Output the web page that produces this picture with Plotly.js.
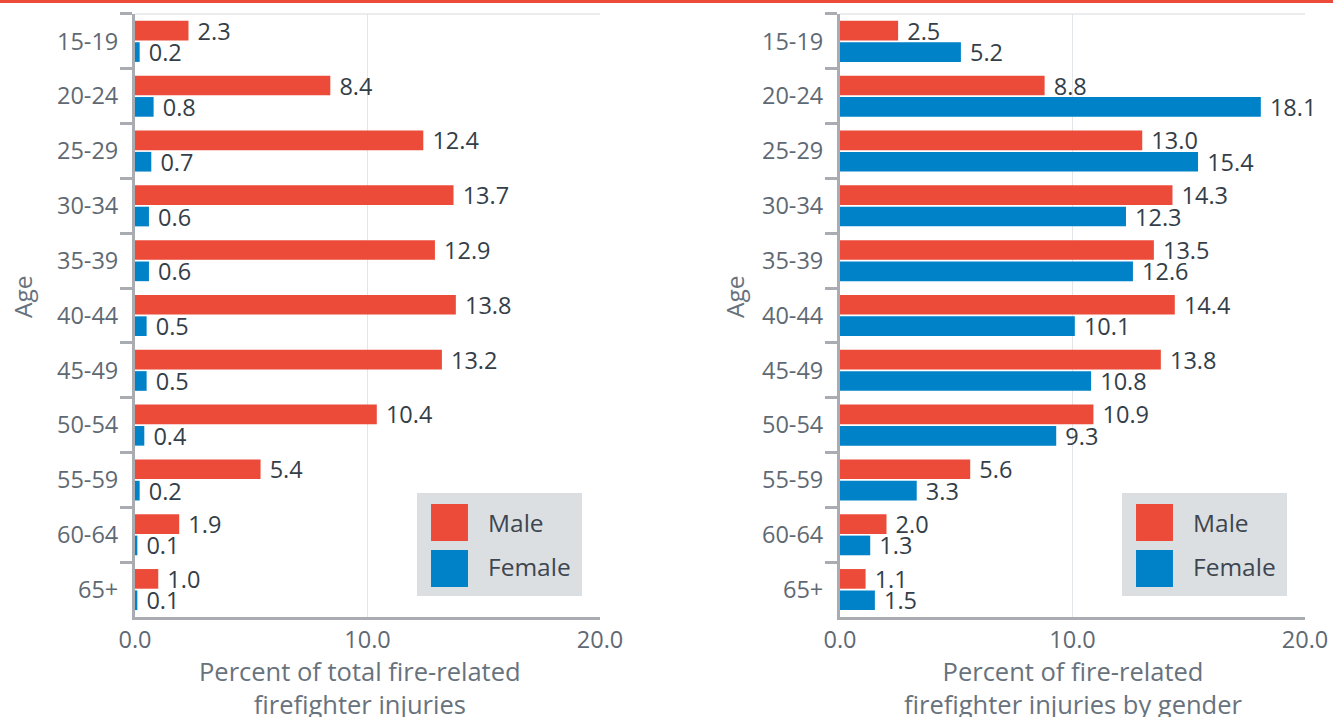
<!DOCTYPE html>
<html><head><meta charset="utf-8">
<script src="https://cdn.plot.ly/plotly-3.0.1.min.js"></script>
<style>html,body{margin:0;padding:0;background:#fff;}#chart{width:1333px;height:717px;}</style>
</head><body><div id="chart"></div>
<script>
const ageGroups = ["15-19","20-24","25-29","30-34","35-39","40-44","45-49","50-54","55-59","60-64","65+"];
const totalMale   = [2.3, 8.4, 12.4, 13.7, 12.9, 13.8, 13.2, 10.4, 5.4, 1.9, 1.0];
const totalFemale = [0.2, 0.8, 0.7, 0.6, 0.6, 0.5, 0.5, 0.4, 0.2, 0.1, 0.1];
const genderMale   = [2.5, 8.8, 13.0, 14.3, 13.5, 14.4, 13.8, 10.9, 5.6, 2.0, 1.1];
const genderFemale = [5.2, 18.1, 15.4, 12.3, 12.6, 10.1, 10.8, 9.3, 3.3, 1.3, 1.5];
const seriesNames = ["Male", "Female"];
const xTickVals = [0, 10, 20];
const leftTitle = "Percent of total fire-related<br>firefighter injuries";
const rightTitle = "Percent of fire-related<br>firefighter injuries by gender";
const yTitle = "Age";

const RED = "#EC4B39", BLUE = "#0082C9";
const FONT = "Open Sans, Noto Sans, sans-serif";
const labelColor = "#343e48", tickColor = "#5f6973", axisGray = "#a9adb2";

function barTrace(vals, name, color, xa, ya) {
  return {
    type: "bar", orientation: "h", y: ageGroups, x: vals, name: name,
    xaxis: xa, yaxis: ya, marker: {color: color},
    text: vals.map(v => "\u00a0" + v.toFixed(1)), textposition: "outside",
    textfont: {family: FONT, size: 23.5, color: labelColor},
    constraintext: "none", cliponaxis: false, hoverinfo: "x+y", showlegend: false
  };
}

const data = [
  barTrace(totalMale, seriesNames[0], RED, "x", "y"),
  barTrace(totalFemale, seriesNames[1], BLUE, "x", "y"),
  barTrace(genderMale, seriesNames[0], RED, "x2", "y2"),
  barTrace(genderFemale, seriesNames[1], BLUE, "x2", "y2")
];

function xAxis(domain, anchor) {
  return {
    domain: domain, anchor: anchor, range: [0, 20], tickvals: xTickVals,
    tickformat: ".1f", showgrid: true, gridcolor: "#e3e6e9", gridwidth: 1.5,
    zeroline: false, showline: true, linecolor: axisGray, linewidth: 3,
    ticks: "", tickfont: {family: FONT, size: 23.5, color: tickColor}, fixedrange: true
  };
}
function yAxis(domain, anchor) {
  return {
    domain: domain, anchor: anchor, type: "category", autorange: "reversed",
    showline: true, linecolor: axisGray, linewidth: 3, showgrid: false,
    ticks: "outside", tickson: "boundaries", ticklen: 12, tickwidth: 3, tickcolor: axisGray,
    ticklabelstandoff: 9,
    tickfont: {family: FONT, size: 23.5, color: tickColor}, fixedrange: true
  };
}

const yDom = [0.1395, 0.9805];
const shapes = [
  {type: "line", xref: "paper", yref: "paper", x0: 0, x1: 1, y0: 0.998, y1: 0.998, line: {color: RED, width: 3}},
  {type: "line", xref: "x domain", yref: "y domain", x0: 0, x1: 1, y0: 1, y1: 1, line: {color: "#e3e6e9", width: 1.5}},
  {type: "line", xref: "x2 domain", yref: "y2 domain", x0: 0, x1: 1, y0: 1, y1: 1, line: {color: "#e3e6e9", width: 1.5}}
];
const annotations = [];
function addLegend(xr, yr) {
  shapes.push({type: "rect", xref: xr, yref: yr, x0: 0.6065, x1: 0.9613, y0: 0.0348, y1: 0.2056, fillcolor: "#dcdfe2", line: {width: 0}, layer: "above"});
  shapes.push({type: "rect", xref: xr, yref: yr, x0: 0.6366, x1: 0.7161, y0: 0.1260, y1: 0.1874, fillcolor: RED, line: {width: 0}, layer: "above"});
  shapes.push({type: "rect", xref: xr, yref: yr, x0: 0.6366, x1: 0.7161, y0: 0.0498, y1: 0.1111, fillcolor: BLUE, line: {width: 0}, layer: "above"});
  annotations.push({xref: xr, yref: yr, x: 0.7548, y: 0.1575, xanchor: "left", yanchor: "middle", showarrow: false, text: seriesNames[0], font: {family: FONT, size: 24.5, color: "#3d4650"}});
  annotations.push({xref: xr, yref: yr, x: 0.7548, y: 0.0829, xanchor: "left", yanchor: "middle", showarrow: false, text: seriesNames[1], font: {family: FONT, size: 24.5, color: "#3d4650"}});
}
addLegend("x domain", "y domain");
addLegend("x2 domain", "y2 domain");

const titleFont = {family: FONT, size: 25.5, color: "#68727c"};
const ageFont = {family: FONT, size: 24.5, color: "#68727c"};
annotations.push({xref: "paper", yref: "paper", x: 0.2701, y: 0.0418, xanchor: "center", yanchor: "middle", showarrow: false, text: leftTitle, font: titleFont});
annotations.push({xref: "paper", yref: "paper", x: 0.8050, y: 0.0418, xanchor: "center", yanchor: "middle", showarrow: false, text: rightTitle, font: titleFont});
annotations.push({xref: "paper", yref: "paper", x: 0.0173, y: 0.5858, xanchor: "center", yanchor: "middle", showarrow: false, text: yTitle, textangle: -90, font: ageFont});
annotations.push({xref: "paper", yref: "paper", x: 0.5514, y: 0.5858, xanchor: "center", yanchor: "middle", showarrow: false, text: yTitle, textangle: -90, font: ageFont});

const layout = {
  width: 1333, height: 717, margin: {l: 0, r: 0, t: 0, b: 0},
  paper_bgcolor: "#ffffff", plot_bgcolor: "#ffffff",
  barmode: "group", bargap: 0.22, bargroupgap: 0.08,
  xaxis: xAxis([0.10128, 0.45011], "y"),
  yaxis: yAxis(yDom, "x"),
  xaxis2: xAxis([0.63016, 0.97899], "y2"),
  yaxis2: yAxis(yDom, "x2"),
  shapes: shapes, annotations: annotations, showlegend: false,
  font: {family: FONT}
};
Plotly.newPlot("chart", data, layout, {displayModeBar: false, staticPlot: true});
</script></body></html>
